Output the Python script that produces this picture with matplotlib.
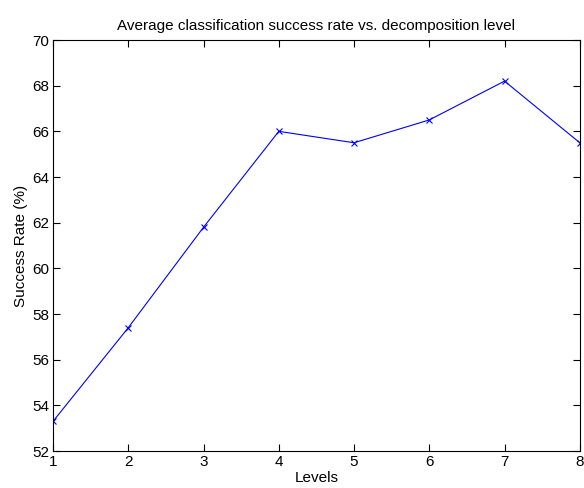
import matplotlib
matplotlib.use("Agg")
import matplotlib.pyplot as plt

# values
levels = [1, 2, 3, 4, 5, 6, 7, 8]
success_rate = [53.3, 57.4, 61.8, 66.0, 65.5, 66.5, 68.2, 65.5]
y_ticks = [52, 54, 56, 58, 60, 62, 64, 66, 68, 70]

plt.rcParams['font.family'] = ['Liberation Sans', 'DejaVu Sans']
plt.rcParams['font.size'] = 11

fig = plt.figure(figsize=(5.84, 4.88), dpi=100)
ax = fig.add_axes([0.0908, 0.0758, 0.902, 0.8422])

ax.plot(levels, success_rate, color='#0000ff', linewidth=0.8,
        marker='x', markersize=5, markeredgewidth=0.8)

ax.set_xlim(1, 8)
ax.set_ylim(52, 70)
ax.set_xticks(levels)
ax.set_yticks(y_ticks)
ax.tick_params(direction='in', length=5, width=0.8, top=True, right=True,
               labelsize=11, pad=3)
for side in ax.spines.values():
    side.set_linewidth(0.8)

ax.set_title('Average classification success rate vs. decomposition level',
             fontsize=11, pad=7)
ax.set_xlabel('Levels', fontsize=11, labelpad=1)
ax.set_ylabel('Success Rate (%)', fontsize=11, labelpad=3)

fig.savefig('out.png', dpi=100)
